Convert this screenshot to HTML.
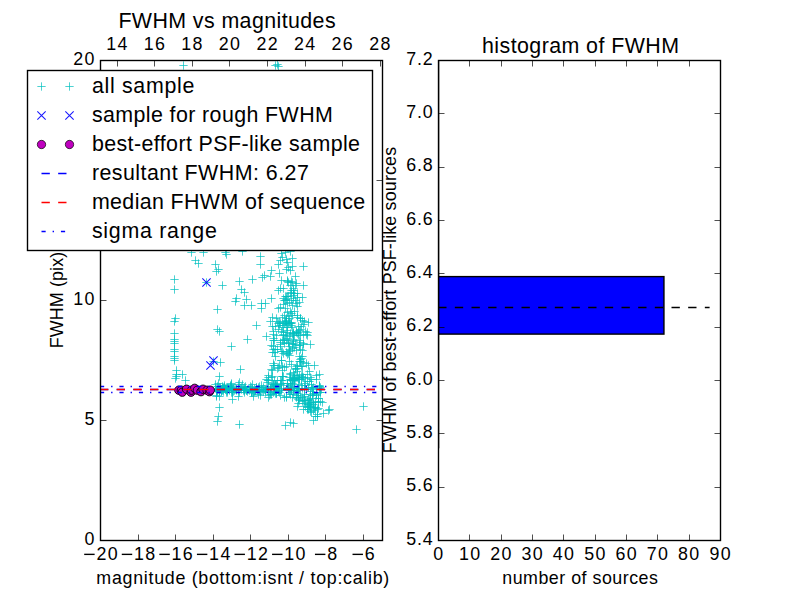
<!DOCTYPE html>
<html><head><meta charset="utf-8"><style>html,body{margin:0;padding:0;background:#fff;width:800px;height:600px;overflow:hidden;font-family:"Liberation Sans",sans-serif}</style></head>
<body>
<svg width="800" height="600" viewBox="0 0 800 600" font-family="Liberation Sans, sans-serif" style="position:absolute;left:0;top:0;font-family:'Liberation Sans',sans-serif">
<rect x="0" y="0" width="800" height="600" fill="#fff"/>
<defs><clipPath id="cl"><rect x="100.00" y="60.00" width="281.82" height="480.00"/></clipPath>
<clipPath id="cr"><rect x="438.18" y="60.00" width="281.82" height="480.00"/></clipPath></defs>
<g clip-path="url(#cl)">
<g stroke="#00bfbf" stroke-width="1" stroke-opacity="0.7" fill="none">
<path d="M170.34 279.5H178.66M174.5 275.33V283.67"/>
<path d="M170.34 289.5H178.66M174.5 285.33V293.67"/>
<path d="M202.34 282.5H210.66M206.5 278.33V286.67"/>
<path d="M187.34 252.5H195.66M191.5 248.34V256.67"/>
<path d="M199.34 252.5H207.66M203.5 248.34V256.67"/>
<path d="M191.34 260.5H199.66M195.5 256.33V264.67"/>
<path d="M194.34 263.5H202.66M198.5 259.33V267.67"/>
<path d="M211.34 264.5H219.66M215.5 260.33V268.67"/>
<path d="M214.34 269.5H222.66M218.5 265.33V273.67"/>
<path d="M212.34 271.5H220.66M216.5 267.33V275.67"/>
<path d="M221.34 252.5H229.66M225.5 248.34V256.67"/>
<path d="M222.34 254.5H230.66M226.5 250.34V258.67"/>
<path d="M238.34 251.5H246.66M242.5 247.34V255.66"/>
<path d="M256.33 256.5H264.67M260.5 252.34V260.67"/>
<path d="M218.34 285.5H226.66M222.5 281.33V289.67"/>
<path d="M235.34 281.5H243.66M239.5 277.33V285.67"/>
<path d="M248.34 279.5H256.67M252.5 275.33V283.67"/>
<path d="M237.34 289.5H245.66M241.5 285.33V293.67"/>
<path d="M240.34 292.5H248.66M244.5 288.33V296.67"/>
<path d="M232.34 298.5H240.66M236.5 294.33V302.67"/>
<path d="M231.34 301.5H239.66M235.5 297.33V305.67"/>
<path d="M242.34 299.5H250.66M246.5 295.33V303.67"/>
<path d="M240.34 305.5H248.66M244.5 301.33V309.67"/>
<path d="M247.34 305.5H255.66M251.5 301.33V309.67"/>
<path d="M213.34 309.5H221.66M217.5 305.33V313.67"/>
<path d="M171.34 318.5H179.66M175.5 314.33V322.67"/>
<path d="M256.33 264.5H264.67M260.5 260.33V268.67"/>
<path d="M267.33 270.5H275.67M271.5 266.33V274.67"/>
<path d="M275.33 273.5H283.67M279.5 269.33V277.67"/>
<path d="M260.33 275.5H268.67M264.5 271.33V279.67"/>
<path d="M258.33 277.5H266.67M262.5 273.33V281.67"/>
<path d="M266.33 276.5H274.67M270.5 272.33V280.67"/>
<path d="M276.33 288.5H284.67M280.5 284.33V292.67"/>
<path d="M274.33 290.5H282.67M278.5 286.33V294.67"/>
<path d="M267.33 298.5H275.67M271.5 294.33V302.67"/>
<path d="M257.33 303.5H265.67M261.5 299.33V307.67"/>
<path d="M261.33 303.5H269.67M265.5 299.33V307.67"/>
<path d="M257.33 308.5H265.67M261.5 304.33V312.67"/>
<path d="M274.33 308.5H282.67M278.5 304.33V312.67"/>
<path d="M268.33 317.5H276.67M272.5 313.33V321.67"/>
<path d="M272.33 318.5H280.67M276.5 314.33V322.67"/>
<path d="M299.33 266.5H307.67M303.5 262.33V270.67"/>
<path d="M277.33 253.5H285.67M281.5 249.34V257.67"/>
<path d="M281.33 252.5H289.67M285.5 248.34V256.67"/>
<path d="M286.33 251.5H294.67M290.5 247.34V255.66"/>
<path d="M278.33 257.5H286.67M282.5 253.34V261.67"/>
<path d="M276.33 260.5H284.67M280.5 256.33V264.67"/>
<path d="M282.33 259.5H290.67M286.5 255.34V263.67"/>
<path d="M288.33 258.5H296.67M292.5 254.34V262.67"/>
<path d="M274.33 264.5H282.67M278.5 260.33V268.67"/>
<path d="M283.33 262.5H291.67M287.5 258.33V266.67"/>
<path d="M284.33 267.5H292.67M288.5 263.33V271.67"/>
<path d="M288.33 266.5H296.67M292.5 262.33V270.67"/>
<path d="M282.33 269.5H290.67M286.5 265.33V273.67"/>
<path d="M286.33 270.5H294.67M290.5 266.33V274.67"/>
<path d="M291.33 276.5H299.67M295.5 272.33V280.67"/>
<path d="M283.33 280.5H291.67M287.5 276.33V284.67"/>
<path d="M287.33 281.5H295.67M291.5 277.33V285.67"/>
<path d="M288.33 282.5H296.67M292.5 278.33V286.67"/>
<path d="M291.33 285.5H299.67M295.5 281.33V289.67"/>
<path d="M286.33 285.5H294.67M290.5 281.33V289.67"/>
<path d="M289.33 288.5H297.67M293.5 284.33V292.67"/>
<path d="M287.33 292.5H295.67M291.5 288.33V296.67"/>
<path d="M281.33 296.5H289.67M285.5 292.33V300.67"/>
<path d="M284.33 296.5H292.67M288.5 292.33V300.67"/>
<path d="M289.33 295.5H297.67M293.5 291.33V299.67"/>
<path d="M293.33 293.5H301.67M297.5 289.33V297.67"/>
<path d="M298.33 297.5H306.67M302.5 293.33V301.67"/>
<path d="M280.33 300.5H288.67M284.5 296.33V304.67"/>
<path d="M287.33 300.5H295.67M291.5 296.33V304.67"/>
<path d="M283.33 303.5H291.67M287.5 299.33V307.67"/>
<path d="M292.33 303.5H300.67M296.5 299.33V307.67"/>
<path d="M276.33 307.5H284.67M280.5 303.33V311.67"/>
<path d="M281.33 308.5H289.67M285.5 304.33V312.67"/>
<path d="M293.33 306.5H301.67M297.5 302.33V310.67"/>
<path d="M286.33 311.5H294.67M290.5 307.33V315.67"/>
<path d="M288.33 315.5H296.67M292.5 311.33V319.67"/>
<path d="M284.33 316.5H292.67M288.5 312.33V320.67"/>
<path d="M293.33 317.5H301.67M297.5 313.33V321.67"/>
<path d="M296.33 318.5H304.67M300.5 314.33V322.67"/>
<path d="M279.33 298.5H287.67M283.5 294.33V302.67"/>
<path d="M282.33 299.5H290.67M286.5 295.33V303.67"/>
<path d="M285.33 302.5H293.67M289.5 298.33V306.67"/>
<path d="M289.33 298.5H297.67M293.5 294.33V302.67"/>
<path d="M291.33 300.5H299.67M295.5 296.33V304.67"/>
<path d="M279.33 304.5H287.67M283.5 300.33V308.67"/>
<path d="M288.33 305.5H296.67M292.5 301.33V309.67"/>
<path d="M283.33 312.5H291.67M287.5 308.33V316.67"/>
<path d="M287.33 313.5H295.67M291.5 309.33V317.67"/>
<path d="M290.33 311.5H298.67M294.5 307.33V315.67"/>
<path d="M282.33 318.5H290.67M286.5 314.33V322.67"/>
<path d="M285.33 318.5H293.67M289.5 314.33V322.67"/>
<path d="M170.34 321.5H178.66M174.5 317.33V325.67"/>
<path d="M170.34 333.5H178.66M174.5 329.33V337.67"/>
<path d="M170.34 339.5H178.66M174.5 335.33V343.67"/>
<path d="M170.34 341.5H178.66M174.5 337.33V345.67"/>
<path d="M170.34 343.5H178.66M174.5 339.33V347.67"/>
<path d="M170.34 349.5H178.66M174.5 345.33V353.67"/>
<path d="M170.34 351.5H178.66M174.5 347.33V355.67"/>
<path d="M170.34 356.5H178.66M174.5 352.33V360.67"/>
<path d="M170.34 358.5H178.66M174.5 354.33V362.67"/>
<path d="M170.34 360.5H178.66M174.5 356.33V364.67"/>
<path d="M172.34 370.5H180.66M176.5 366.33V374.67"/>
<path d="M172.34 374.5H180.66M176.5 370.33V378.67"/>
<path d="M172.34 376.5H180.66M176.5 372.33V380.67"/>
<path d="M171.34 378.5H179.66M175.5 374.33V382.67"/>
<path d="M178.34 374.5H186.66M182.5 370.33V378.67"/>
<path d="M181.34 380.5H189.66M185.5 376.33V384.67"/>
<path d="M213.34 329.5H221.66M217.5 325.33V333.67"/>
<path d="M215.34 331.5H223.66M219.5 327.33V335.67"/>
<path d="M252.34 325.5H260.67M256.5 321.33V329.67"/>
<path d="M243.34 339.5H251.66M247.5 335.33V343.67"/>
<path d="M227.34 346.5H235.66M231.5 342.33V350.67"/>
<path d="M216.34 362.5H224.66M220.5 358.33V366.67"/>
<path d="M209.34 361.5H217.66M213.5 357.33V365.67"/>
<path d="M236.34 369.5H244.66M240.5 365.33V373.67"/>
<path d="M215.34 376.5H223.66M219.5 372.33V380.67"/>
<path d="M179.34 65.5H187.66M183.5 61.34V69.67"/>
<path d="M271.33 65.5H279.67M275.5 61.34V69.67"/>
<path d="M274.33 66.5H282.67M278.5 62.34V70.67"/>
<path d="M273.33 64.5H281.67M277.5 60.34V68.67"/>
<path d="M262.33 336.5H270.67M266.5 332.33V340.67"/>
<path d="M266.33 321.5H274.67M270.5 317.33V325.67"/>
<path d="M303.33 335.5H311.67M307.5 331.33V339.67"/>
<path d="M306.33 344.5H314.67M310.5 340.33V348.67"/>
<path d="M315.33 374.5H323.67M319.5 370.33V378.67"/>
<path d="M278.33 376.5H286.67M282.5 372.33V380.67"/>
<path d="M295.33 375.5H303.67M299.5 371.33V379.67"/>
<path d="M289.33 378.5H297.67M293.5 374.33V382.67"/>
<path d="M264.33 380.5H272.67M268.5 376.33V384.67"/>
<path d="M262.33 379.5H270.67M266.5 375.33V383.67"/>
<path d="M264.33 375.5H272.67M268.5 371.33V379.67"/>
<path d="M283.33 383.5H291.67M287.5 379.33V387.67"/>
<path d="M267.33 377.5H275.67M271.5 373.33V381.67"/>
<path d="M294.33 384.5H302.67M298.5 380.33V388.67"/>
<path d="M291.33 378.5H299.67M295.5 374.33V382.67"/>
<path d="M312.33 375.5H320.67M316.5 371.33V379.67"/>
<path d="M306.33 377.5H314.67M310.5 373.33V381.67"/>
<path d="M268.33 376.5H276.67M272.5 372.33V380.67"/>
<path d="M277.33 383.5H285.67M281.5 379.33V387.67"/>
<path d="M270.33 380.5H278.67M274.5 376.33V384.67"/>
<path d="M294.33 378.5H302.67M298.5 374.33V382.67"/>
<path d="M290.33 375.5H298.67M294.5 371.33V379.67"/>
<path d="M264.33 377.5H272.67M268.5 373.33V381.67"/>
<path d="M297.33 379.5H305.67M301.5 375.33V383.67"/>
<path d="M277.33 380.5H285.67M281.5 376.33V384.67"/>
<path d="M285.33 377.5H293.67M289.5 373.33V381.67"/>
<path d="M303.33 381.5H311.67M307.5 377.33V385.67"/>
<path d="M273.33 380.5H281.67M277.5 376.33V384.67"/>
<path d="M288.33 383.5H296.67M292.5 379.33V387.67"/>
<path d="M299.33 377.5H307.67M303.5 373.33V381.67"/>
<path d="M215.34 396.5H223.66M219.5 392.33V400.67"/>
<path d="M228.34 399.5H236.66M232.5 395.33V403.67"/>
<path d="M215.34 407.5H223.66M219.5 403.33V411.67"/>
<path d="M214.34 416.5H222.66M218.5 412.33V420.67"/>
<path d="M213.34 421.5H221.66M217.5 417.33V425.67"/>
<path d="M235.34 424.5H243.66M239.5 420.33V428.67"/>
<path d="M255.34 386.5H263.67M259.5 382.33V390.67"/>
<path d="M229.34 391.5H237.66M233.5 387.33V395.67"/>
<path d="M217.34 389.5H225.66M221.5 385.33V393.67"/>
<path d="M212.34 390.5H220.66M216.5 386.33V394.67"/>
<path d="M245.34 390.5H253.66M249.5 386.33V394.67"/>
<path d="M250.34 388.5H258.67M254.5 384.33V392.67"/>
<path d="M242.34 390.5H250.66M246.5 386.33V394.67"/>
<path d="M237.34 389.5H245.66M241.5 385.33V393.67"/>
<path d="M248.34 392.5H256.67M252.5 388.33V396.67"/>
<path d="M232.34 390.5H240.66M236.5 386.33V394.67"/>
<path d="M213.34 390.5H221.66M217.5 386.33V394.67"/>
<path d="M240.34 392.5H248.66M244.5 388.33V396.67"/>
<path d="M247.34 387.5H255.66M251.5 383.33V391.67"/>
<path d="M228.34 390.5H236.66M232.5 386.33V394.67"/>
<path d="M212.34 389.5H220.66M216.5 385.33V393.67"/>
<path d="M218.34 386.5H226.66M222.5 382.33V390.67"/>
<path d="M213.34 391.5H221.66M217.5 387.33V395.67"/>
<path d="M216.34 387.5H224.66M220.5 383.33V391.67"/>
<path d="M228.34 392.5H236.66M232.5 388.33V396.67"/>
<path d="M214.34 389.5H222.66M218.5 385.33V393.67"/>
<path d="M235.34 392.5H243.66M239.5 388.33V396.67"/>
<path d="M247.34 392.5H255.66M251.5 388.33V396.67"/>
<path d="M223.34 388.5H231.66M227.5 384.33V392.67"/>
<path d="M227.34 392.5H235.66M231.5 388.33V396.67"/>
<path d="M254.34 387.5H262.67M258.5 383.33V391.67"/>
<path d="M218.34 387.5H226.66M222.5 383.33V391.67"/>
<path d="M221.34 389.5H229.66M225.5 385.33V393.67"/>
<path d="M237.34 387.5H245.66M241.5 383.33V391.67"/>
<path d="M211.34 388.5H219.66M215.5 384.33V392.67"/>
<path d="M227.34 389.5H235.66M231.5 385.33V393.67"/>
<path d="M253.34 390.5H261.67M257.5 386.33V394.67"/>
<path d="M234.34 390.5H242.66M238.5 386.33V394.67"/>
<path d="M241.34 386.5H249.66M245.5 382.33V390.67"/>
<path d="M251.34 391.5H259.67M255.5 387.33V395.67"/>
<path d="M250.34 391.5H258.67M254.5 387.33V395.67"/>
<path d="M228.34 388.5H236.66M232.5 384.33V392.67"/>
<path d="M215.34 390.5H223.66M219.5 386.33V394.67"/>
<path d="M213.34 386.5H221.66M217.5 382.33V390.67"/>
<path d="M220.34 387.5H228.66M224.5 383.33V391.67"/>
<path d="M226.34 386.5H234.66M230.5 382.33V390.67"/>
<path d="M211.34 384.5H219.66M215.5 380.33V388.67"/>
<path d="M215.34 387.5H223.66M219.5 383.33V391.67"/>
<path d="M212.34 395.5H220.66M216.5 391.33V399.67"/>
<path d="M238.34 384.5H246.66M242.5 380.33V388.67"/>
<path d="M222.34 387.5H230.66M226.5 383.33V391.67"/>
<path d="M227.34 383.5H235.66M231.5 379.33V387.67"/>
<path d="M249.34 396.5H257.67M253.5 392.33V400.67"/>
<path d="M231.34 389.5H239.66M235.5 385.33V393.67"/>
<path d="M214.34 383.5H222.66M218.5 379.33V387.67"/>
<path d="M226.34 385.5H234.66M230.5 381.33V389.67"/>
<path d="M248.34 384.5H256.67M252.5 380.33V388.67"/>
<path d="M212.34 396.5H220.66M216.5 392.33V400.67"/>
<path d="M234.34 384.5H242.66M238.5 380.33V388.67"/>
<path d="M235.34 382.5H243.66M239.5 378.33V386.67"/>
<path d="M234.34 396.5H242.66M238.5 392.33V400.67"/>
<path d="M309.33 393.5H317.67M313.5 389.33V397.67"/>
<path d="M272.33 386.5H280.67M276.5 382.33V390.67"/>
<path d="M266.33 394.5H274.67M270.5 390.33V398.67"/>
<path d="M289.33 394.5H297.67M293.5 390.33V398.67"/>
<path d="M276.33 384.5H284.67M280.5 380.33V388.67"/>
<path d="M306.33 398.5H314.67M310.5 394.33V402.67"/>
<path d="M308.33 395.5H316.67M312.5 391.33V399.67"/>
<path d="M306.33 394.5H314.67M310.5 390.33V398.67"/>
<path d="M270.33 389.5H278.67M274.5 385.33V393.67"/>
<path d="M278.33 380.5H286.67M282.5 376.33V384.67"/>
<path d="M257.33 385.5H265.67M261.5 381.33V389.67"/>
<path d="M272.33 393.5H280.67M276.5 389.33V397.67"/>
<path d="M315.33 388.5H323.67M319.5 384.33V392.67"/>
<path d="M314.33 398.5H322.67M318.5 394.33V402.67"/>
<path d="M315.33 386.5H323.67M319.5 382.33V390.67"/>
<path d="M269.33 384.5H277.67M273.5 380.33V388.67"/>
<path d="M268.33 383.5H276.67M272.5 379.33V387.67"/>
<path d="M294.33 397.5H302.67M298.5 393.33V401.67"/>
<path d="M308.33 389.5H316.67M312.5 385.33V393.67"/>
<path d="M296.33 395.5H304.67M300.5 391.33V399.67"/>
<path d="M261.33 392.5H269.67M265.5 388.33V396.67"/>
<path d="M312.33 394.5H320.67M316.5 390.33V398.67"/>
<path d="M302.33 389.5H310.67M306.5 385.33V393.67"/>
<path d="M267.33 394.5H275.67M271.5 390.33V398.67"/>
<path d="M276.33 395.5H284.67M280.5 391.33V399.67"/>
<path d="M316.33 387.5H324.67M320.5 383.33V391.67"/>
<path d="M280.33 397.5H288.67M284.5 393.33V401.67"/>
<path d="M300.33 383.5H308.67M304.5 379.33V387.67"/>
<path d="M263.33 382.5H271.67M267.5 378.33V386.67"/>
<path d="M312.33 395.5H320.67M316.5 391.33V399.67"/>
<path d="M265.33 395.5H273.67M269.5 391.33V399.67"/>
<path d="M316.33 392.5H324.67M320.5 388.33V396.67"/>
<path d="M277.33 390.5H285.67M281.5 386.33V394.67"/>
<path d="M264.33 380.5H272.67M268.5 376.33V384.67"/>
<path d="M316.33 392.5H324.67M320.5 388.33V396.67"/>
<path d="M288.33 397.5H296.67M292.5 393.33V401.67"/>
<path d="M282.33 396.5H290.67M286.5 392.33V400.67"/>
<path d="M307.33 384.5H315.67M311.5 380.33V388.67"/>
<path d="M271.33 385.5H279.67M275.5 381.33V389.67"/>
<path d="M270.33 391.5H278.67M274.5 387.33V395.67"/>
<path d="M272.33 387.5H280.67M276.5 383.33V391.67"/>
<path d="M264.33 397.5H272.67M268.5 393.33V401.67"/>
<path d="M277.33 388.5H285.67M281.5 384.33V392.67"/>
<path d="M292.33 397.5H300.67M296.5 393.33V401.67"/>
<path d="M282.33 397.5H290.67M286.5 393.33V401.67"/>
<path d="M287.33 390.5H295.67M291.5 386.33V394.67"/>
<path d="M288.33 380.5H296.67M292.5 376.33V384.67"/>
<path d="M283.33 383.5H291.67M287.5 379.33V387.67"/>
<path d="M256.33 395.5H264.67M260.5 391.33V399.67"/>
<path d="M266.33 388.5H274.67M270.5 384.33V392.67"/>
<path d="M306.33 406.5H314.67M310.5 402.33V410.67"/>
<path d="M310.33 408.5H318.67M314.5 404.33V412.67"/>
<path d="M305.33 402.5H313.67M309.5 398.33V406.67"/>
<path d="M304.33 409.5H312.67M308.5 405.33V413.67"/>
<path d="M300.33 403.5H308.67M304.5 399.33V407.67"/>
<path d="M306.33 407.5H314.67M310.5 403.33V411.67"/>
<path d="M306.33 403.5H314.67M310.5 399.33V407.67"/>
<path d="M303.33 409.5H311.67M307.5 405.33V413.67"/>
<path d="M311.33 407.5H319.67M315.5 403.33V411.67"/>
<path d="M309.33 404.5H317.67M313.5 400.33V408.67"/>
<path d="M314.33 408.5H322.67M318.5 404.33V412.67"/>
<path d="M303.33 400.5H311.67M307.5 396.33V404.67"/>
<path d="M298.33 401.5H306.67M302.5 397.33V405.67"/>
<path d="M307.33 412.5H315.67M311.5 408.33V416.67"/>
<path d="M301.33 400.5H309.67M305.5 396.33V404.67"/>
<path d="M316.33 401.5H324.67M320.5 397.33V405.67"/>
<path d="M301.33 406.5H309.67M305.5 402.33V410.67"/>
<path d="M294.33 403.5H302.67M298.5 399.33V407.67"/>
<path d="M306.33 411.5H314.67M310.5 407.33V415.67"/>
<path d="M295.33 400.5H303.67M299.5 396.33V404.67"/>
<path d="M281.33 425.5H289.67M285.5 421.33V429.67"/>
<path d="M286.33 422.5H294.67M290.5 418.33V426.67"/>
<path d="M289.33 423.5H297.67M293.5 419.33V427.67"/>
<path d="M309.33 420.5H317.67M313.5 416.33V424.67"/>
<path d="M313.33 416.5H321.67M317.5 412.33V420.67"/>
<path d="M324.33 410.5H332.67M328.5 406.33V414.67"/>
<path d="M325.33 409.5H333.67M329.5 405.33V413.67"/>
<path d="M319.33 413.5H327.67M323.5 409.33V417.67"/>
<path d="M318.33 402.5H326.67M322.5 398.33V406.67"/>
<path d="M299.33 409.5H307.67M303.5 405.33V413.67"/>
<path d="M293.33 406.5H301.67M297.5 402.33V410.67"/>
<path d="M352.33 429.5H360.67M356.5 425.33V433.67"/>
<path d="M359.33 406.5H367.67M363.5 402.33V410.67"/>
<path d="M311.33 416.5H319.67M315.5 412.33V420.67"/>
<path d="M219.34 389.5H227.66M223.5 385.33V393.67"/>
<path d="M219.34 387.5H227.66M223.5 383.33V391.67"/>
<path d="M242.34 390.5H250.66M246.5 386.33V394.67"/>
<path d="M244.34 389.5H252.66M248.5 385.33V393.67"/>
<path d="M227.34 384.5H235.66M231.5 380.33V388.67"/>
<path d="M240.34 389.5H248.66M244.5 385.33V393.67"/>
<path d="M220.34 387.5H228.66M224.5 383.33V391.67"/>
<path d="M225.34 390.5H233.66M229.5 386.33V394.67"/>
<path d="M221.34 388.5H229.66M225.5 384.33V392.67"/>
<path d="M215.34 391.5H223.66M219.5 387.33V395.67"/>
<path d="M232.34 389.5H240.66M236.5 385.33V393.67"/>
<path d="M225.34 389.5H233.66M229.5 385.33V393.67"/>
<path d="M234.34 388.5H242.66M238.5 384.33V392.67"/>
<path d="M245.34 389.5H253.66M249.5 385.33V393.67"/>
<path d="M239.34 390.5H247.66M243.5 386.33V394.67"/>
<path d="M223.34 389.5H231.66M227.5 385.33V393.67"/>
<path d="M216.34 389.5H224.66M220.5 385.33V393.67"/>
<path d="M219.34 388.5H227.66M223.5 384.33V392.67"/>
<path d="M228.34 392.5H236.66M232.5 388.33V396.67"/>
<path d="M223.34 387.5H231.66M227.5 383.33V391.67"/>
<path d="M219.34 391.5H227.66M223.5 387.33V395.67"/>
<path d="M236.34 388.5H244.66M240.5 384.33V392.67"/>
<path d="M217.34 391.5H225.66M221.5 387.33V395.67"/>
<path d="M228.34 390.5H236.66M232.5 386.33V394.67"/>
<path d="M217.34 391.5H225.66M221.5 387.33V395.67"/>
<path d="M239.34 388.5H247.66M243.5 384.33V392.67"/>
<path d="M217.34 389.5H225.66M221.5 385.33V393.67"/>
<path d="M241.34 389.5H249.66M245.5 385.33V393.67"/>
<path d="M229.34 388.5H237.66M233.5 384.33V392.67"/>
<path d="M243.34 391.5H251.66M247.5 387.33V395.67"/>
<path d="M223.34 390.5H231.66M227.5 386.33V394.67"/>
<path d="M222.34 390.5H230.66M226.5 386.33V394.67"/>
<path d="M218.34 389.5H226.66M222.5 385.33V393.67"/>
<path d="M221.34 389.5H229.66M225.5 385.33V393.67"/>
<path d="M224.34 388.5H232.66M228.5 384.33V392.67"/>
<path d="M223.34 392.5H231.66M227.5 388.33V396.67"/>
<path d="M230.34 390.5H238.66M234.5 386.33V394.67"/>
<path d="M215.34 390.5H223.66M219.5 386.33V394.67"/>
<path d="M222.34 392.5H230.66M226.5 388.33V396.67"/>
<path d="M232.34 389.5H240.66M236.5 385.33V393.67"/>
<path d="M220.34 385.5H228.66M224.5 381.33V389.67"/>
<path d="M218.34 390.5H226.66M222.5 386.33V394.67"/>
<path d="M240.34 387.5H248.66M244.5 383.33V391.67"/>
<path d="M240.34 390.5H248.66M244.5 386.33V394.67"/>
<path d="M227.34 387.5H235.66M231.5 383.33V391.67"/>
<path d="M285.33 389.5H293.67M289.5 385.33V393.67"/>
<path d="M259.33 391.5H267.67M263.5 387.33V395.67"/>
<path d="M271.33 385.5H279.67M275.5 381.33V389.67"/>
<path d="M262.33 388.5H270.67M266.5 384.33V392.67"/>
<path d="M251.34 390.5H259.67M255.5 386.33V394.67"/>
<path d="M248.34 389.5H256.67M252.5 385.33V393.67"/>
<path d="M252.34 387.5H260.67M256.5 383.33V391.67"/>
<path d="M249.34 392.5H257.67M253.5 388.33V396.67"/>
<path d="M272.33 384.5H280.67M276.5 380.33V388.67"/>
<path d="M257.33 389.5H265.67M261.5 385.33V393.67"/>
<path d="M264.33 391.5H272.67M268.5 387.33V395.67"/>
<path d="M252.34 387.5H260.67M256.5 383.33V391.67"/>
<path d="M284.33 390.5H292.67M288.5 386.33V394.67"/>
<path d="M284.33 387.5H292.67M288.5 383.33V391.67"/>
<path d="M284.33 388.5H292.67M288.5 384.33V392.67"/>
<path d="M258.33 389.5H266.67M262.5 385.33V393.67"/>
<path d="M261.33 389.5H269.67M265.5 385.33V393.67"/>
<path d="M264.33 387.5H272.67M268.5 383.33V391.67"/>
<path d="M266.33 389.5H274.67M270.5 385.33V393.67"/>
<path d="M246.34 389.5H254.66M250.5 385.33V393.67"/>
<path d="M261.33 390.5H269.67M265.5 386.33V394.67"/>
<path d="M247.34 391.5H255.66M251.5 387.33V395.67"/>
<path d="M255.34 389.5H263.67M259.5 385.33V393.67"/>
<path d="M269.33 384.5H277.67M273.5 380.33V388.67"/>
<path d="M272.33 388.5H280.67M276.5 384.33V392.67"/>
<path d="M274.33 391.5H282.67M278.5 387.33V395.67"/>
<path d="M259.33 387.5H267.67M263.5 383.33V391.67"/>
<path d="M285.33 392.5H293.67M289.5 388.33V396.67"/>
<path d="M271.33 393.5H279.67M275.5 389.33V397.67"/>
<path d="M247.34 392.5H255.66M251.5 388.33V396.67"/>
<path d="M271.33 384.5H279.67M275.5 380.33V388.67"/>
<path d="M275.33 390.5H283.67M279.5 386.33V394.67"/>
<path d="M266.33 388.5H274.67M270.5 384.33V392.67"/>
<path d="M266.33 392.5H274.67M270.5 388.33V396.67"/>
<path d="M279.33 385.5H287.67M283.5 381.33V389.67"/>
<path d="M269.33 392.5H277.67M273.5 388.33V396.67"/>
<path d="M273.33 386.5H281.67M277.5 382.33V390.67"/>
<path d="M255.34 390.5H263.67M259.5 386.33V394.67"/>
<path d="M260.33 389.5H268.67M264.5 385.33V393.67"/>
<path d="M250.34 391.5H258.67M254.5 387.33V395.67"/>
<path d="M271.33 386.5H279.67M275.5 382.33V390.67"/>
<path d="M271.33 388.5H279.67M275.5 384.33V392.67"/>
<path d="M246.34 386.5H254.66M250.5 382.33V390.67"/>
<path d="M277.33 389.5H285.67M281.5 385.33V393.67"/>
<path d="M267.33 386.5H275.67M271.5 382.33V390.67"/>
<path d="M272.33 393.5H280.67M276.5 389.33V397.67"/>
<path d="M256.33 391.5H264.67M260.5 387.33V395.67"/>
<path d="M248.34 389.5H256.67M252.5 385.33V393.67"/>
<path d="M254.34 394.5H262.67M258.5 390.33V398.67"/>
<path d="M275.33 392.5H283.67M279.5 388.33V396.67"/>
<path d="M298.33 388.5H306.67M302.5 384.33V392.67"/>
<path d="M301.33 385.5H309.67M305.5 381.33V389.67"/>
<path d="M305.33 381.5H313.67M309.5 377.33V385.67"/>
<path d="M306.33 391.5H314.67M310.5 387.33V395.67"/>
<path d="M294.33 390.5H302.67M298.5 386.33V394.67"/>
<path d="M309.33 387.5H317.67M313.5 383.33V391.67"/>
<path d="M286.33 394.5H294.67M290.5 390.33V398.67"/>
<path d="M287.33 388.5H295.67M291.5 384.33V392.67"/>
<path d="M308.33 395.5H316.67M312.5 391.33V399.67"/>
<path d="M307.33 387.5H315.67M311.5 383.33V391.67"/>
<path d="M300.33 394.5H308.67M304.5 390.33V398.67"/>
<path d="M300.33 396.5H308.67M304.5 392.33V400.67"/>
<path d="M292.33 395.5H300.67M296.5 391.33V399.67"/>
<path d="M317.33 389.5H325.67M321.5 385.33V393.67"/>
<path d="M300.33 388.5H308.67M304.5 384.33V392.67"/>
<path d="M312.33 393.5H320.67M316.5 389.33V397.67"/>
<path d="M294.33 388.5H302.67M298.5 384.33V392.67"/>
<path d="M292.33 391.5H300.67M296.5 387.33V395.67"/>
<path d="M304.33 387.5H312.67M308.5 383.33V391.67"/>
<path d="M290.33 378.5H298.67M294.5 374.33V382.67"/>
<path d="M290.33 387.5H298.67M294.5 383.33V391.67"/>
<path d="M312.33 379.5H320.67M316.5 375.33V383.67"/>
<path d="M308.33 388.5H316.67M312.5 384.33V392.67"/>
<path d="M293.33 393.5H301.67M297.5 389.33V397.67"/>
<path d="M286.33 385.5H294.67M290.5 381.33V389.67"/>
<path d="M286.33 384.5H294.67M290.5 380.33V388.67"/>
<path d="M295.33 389.5H303.67M299.5 385.33V393.67"/>
<path d="M290.33 386.5H298.67M294.5 382.33V390.67"/>
<path d="M312.33 392.5H320.67M316.5 388.33V396.67"/>
<path d="M286.33 389.5H294.67M290.5 385.33V393.67"/>
<path d="M289.33 380.5H297.67M293.5 376.33V384.67"/>
<path d="M315.33 386.5H323.67M319.5 382.33V390.67"/>
<path d="M295.33 379.5H303.67M299.5 375.33V383.67"/>
<path d="M297.33 376.5H305.67M301.5 372.33V380.67"/>
<path d="M304.33 399.5H312.67M308.5 395.33V403.67"/>
<path d="M297.33 385.5H305.67M301.5 381.33V389.67"/>
<path d="M287.33 390.5H295.67M291.5 386.33V394.67"/>
<path d="M289.33 390.5H297.67M293.5 386.33V394.67"/>
<path d="M315.33 385.5H323.67M319.5 381.33V389.67"/>
<path d="M293.33 388.5H301.67M297.5 384.33V392.67"/>
<path d="M304.33 404.5H312.67M308.5 400.33V408.67"/>
<path d="M294.33 399.5H302.67M298.5 395.33V403.67"/>
<path d="M304.33 404.5H312.67M308.5 400.33V408.67"/>
<path d="M294.33 398.5H302.67M298.5 394.33V402.67"/>
<path d="M309.33 402.5H317.67M313.5 398.33V406.67"/>
<path d="M309.33 410.5H317.67M313.5 406.33V414.67"/>
<path d="M311.33 401.5H319.67M315.5 397.33V405.67"/>
<path d="M314.33 402.5H322.67M318.5 398.33V406.67"/>
<path d="M313.33 414.5H321.67M317.5 410.33V418.67"/>
<path d="M305.33 405.5H313.67M309.5 401.33V409.67"/>
<path d="M307.33 402.5H315.67M311.5 398.33V406.67"/>
<path d="M298.33 397.5H306.67M302.5 393.33V401.67"/>
<path d="M313.33 409.5H321.67M317.5 405.33V413.67"/>
<path d="M311.33 407.5H319.67M315.5 403.33V411.67"/>
<path d="M305.33 400.5H313.67M309.5 396.33V404.67"/>
<path d="M300.33 400.5H308.67M304.5 396.33V404.67"/>
<path d="M305.33 406.5H313.67M309.5 402.33V410.67"/>
<path d="M314.33 398.5H322.67M318.5 394.33V402.67"/>
<path d="M303.33 407.5H311.67M307.5 403.33V411.67"/>
<path d="M299.33 400.5H307.67M303.5 396.33V404.67"/>
<path d="M292.33 283.5H300.67M296.5 279.33V287.67"/>
<path d="M290.33 293.5H298.67M294.5 289.33V297.67"/>
<path d="M289.33 290.5H297.67M293.5 286.33V294.67"/>
<path d="M295.33 302.5H303.67M299.5 298.33V306.67"/>
<path d="M282.33 296.5H290.67M286.5 292.33V300.67"/>
<path d="M283.33 296.5H291.67M287.5 292.33V300.67"/>
<path d="M286.33 293.5H294.67M290.5 289.33V297.67"/>
<path d="M284.33 282.5H292.67M288.5 278.33V286.67"/>
<path d="M299.33 285.5H307.67M303.5 281.33V289.67"/>
<path d="M281.33 300.5H289.67M285.5 296.33V304.67"/>
<path d="M279.33 288.5H287.67M283.5 284.33V292.67"/>
<path d="M287.33 290.5H295.67M291.5 286.33V294.67"/>
<path d="M293.33 297.5H301.67M297.5 293.33V301.67"/>
<path d="M296.33 318.5H304.67M300.5 314.33V322.67"/>
<path d="M277.33 280.5H285.67M281.5 276.33V284.67"/>
<path d="M283.33 281.5H291.67M287.5 277.33V285.67"/>
<path d="M273.33 349.5H281.67M277.5 345.33V353.67"/>
<path d="M298.33 356.5H306.67M302.5 352.33V360.67"/>
<path d="M292.33 377.5H300.67M296.5 373.33V381.67"/>
<path d="M305.33 371.5H313.67M309.5 367.33V375.67"/>
<path d="M272.33 335.5H280.67M276.5 331.33V339.67"/>
<path d="M294.33 326.5H302.67M298.5 322.33V330.67"/>
<path d="M299.33 362.5H307.67M303.5 358.33V366.67"/>
<path d="M290.33 378.5H298.67M294.5 374.33V382.67"/>
<path d="M280.33 367.5H288.67M284.5 363.33V371.67"/>
<path d="M288.33 348.5H296.67M292.5 344.33V352.67"/>
<path d="M291.33 368.5H299.67M295.5 364.33V372.67"/>
<path d="M299.33 334.5H307.67M303.5 330.33V338.67"/>
<path d="M283.33 338.5H291.67M287.5 334.33V342.67"/>
<path d="M288.33 327.5H296.67M292.5 323.33V331.67"/>
<path d="M302.33 363.5H310.67M306.5 359.33V367.67"/>
<path d="M297.33 326.5H305.67M301.5 322.33V330.67"/>
<path d="M295.33 356.5H303.67M299.5 352.33V360.67"/>
<path d="M291.33 344.5H299.67M295.5 340.33V348.67"/>
<path d="M298.33 320.5H306.67M302.5 316.33V324.67"/>
<path d="M269.33 338.5H277.67M273.5 334.33V342.67"/>
<path d="M296.33 359.5H304.67M300.5 355.33V363.67"/>
<path d="M286.33 374.5H294.67M290.5 370.33V378.67"/>
<path d="M290.33 335.5H298.67M294.5 331.33V339.67"/>
<path d="M290.33 379.5H298.67M294.5 375.33V383.67"/>
<path d="M281.33 321.5H289.67M285.5 317.33V325.67"/>
<path d="M286.33 350.5H294.67M290.5 346.33V354.67"/>
<path d="M281.33 335.5H289.67M285.5 331.33V339.67"/>
<path d="M296.33 361.5H304.67M300.5 357.33V365.67"/>
<path d="M285.33 322.5H293.67M289.5 318.33V326.67"/>
<path d="M279.33 340.5H287.67M283.5 336.33V344.67"/>
<path d="M294.33 332.5H302.67M298.5 328.33V336.67"/>
<path d="M291.33 369.5H299.67M295.5 365.33V373.67"/>
<path d="M279.33 332.5H287.67M283.5 328.33V336.67"/>
<path d="M287.33 380.5H295.67M291.5 376.33V384.67"/>
<path d="M302.33 334.5H310.67M306.5 330.33V338.67"/>
<path d="M289.33 333.5H297.67M293.5 329.33V337.67"/>
<path d="M286.33 379.5H294.67M290.5 375.33V383.67"/>
<path d="M292.33 350.5H300.67M296.5 346.33V354.67"/>
<path d="M295.33 345.5H303.67M299.5 341.33V349.67"/>
<path d="M295.33 361.5H303.67M299.5 357.33V365.67"/>
<path d="M288.33 344.5H296.67M292.5 340.33V348.67"/>
<path d="M293.33 333.5H301.67M297.5 329.33V337.67"/>
<path d="M287.33 323.5H295.67M291.5 319.33V327.67"/>
<path d="M274.33 323.5H282.67M278.5 319.33V327.67"/>
<path d="M303.33 374.5H311.67M307.5 370.33V378.67"/>
<path d="M310.33 365.5H318.67M314.5 361.33V369.67"/>
<path d="M289.33 340.5H297.67M293.5 336.33V344.67"/>
<path d="M301.33 331.5H309.67M305.5 327.33V335.67"/>
<path d="M282.33 321.5H290.67M286.5 317.33V325.67"/>
<path d="M285.33 361.5H293.67M289.5 357.33V365.67"/>
<path d="M295.33 340.5H303.67M299.5 336.33V344.67"/>
<path d="M295.33 330.5H303.67M299.5 326.33V334.67"/>
<path d="M289.33 341.5H297.67M293.5 337.33V345.67"/>
<path d="M307.33 379.5H315.67M311.5 375.33V383.67"/>
<path d="M303.33 332.5H311.67M307.5 328.33V336.67"/>
<path d="M296.33 342.5H304.67M300.5 338.33V346.67"/>
<path d="M276.33 346.5H284.67M280.5 342.33V350.67"/>
<path d="M280.33 323.5H288.67M284.5 319.33V327.67"/>
<path d="M293.33 377.5H301.67M297.5 373.33V381.67"/>
<path d="M277.33 331.5H285.67M281.5 327.33V335.67"/>
<path d="M300.33 321.5H308.67M304.5 317.33V325.67"/>
<path d="M295.33 345.5H303.67M299.5 341.33V349.67"/>
<path d="M275.33 322.5H283.67M279.5 318.33V326.67"/>
<path d="M304.33 322.5H312.67M308.5 318.33V326.67"/>
<path d="M296.33 335.5H304.67M300.5 331.33V339.67"/>
<path d="M297.33 366.5H305.67M301.5 362.33V370.67"/>
<path d="M285.33 336.5H293.67M289.5 332.33V340.67"/>
<path d="M288.33 379.5H296.67M292.5 375.33V383.67"/>
<path d="M287.33 364.5H295.67M291.5 360.33V368.67"/>
<path d="M289.33 339.5H297.67M293.5 335.33V343.67"/>
<path d="M292.33 366.5H300.67M296.5 362.33V370.67"/>
<path d="M279.33 376.5H287.67M283.5 372.33V380.67"/>
<path d="M273.33 321.5H281.67M277.5 317.33V325.67"/>
<path d="M269.33 334.5H277.67M273.5 330.33V338.67"/>
<path d="M295.33 379.5H303.67M299.5 375.33V383.67"/>
<path d="M289.33 343.5H297.67M293.5 339.33V347.67"/>
<path d="M298.33 350.5H306.67M302.5 346.33V354.67"/>
<path d="M298.33 377.5H306.67M302.5 373.33V381.67"/>
<path d="M304.33 365.5H312.67M308.5 361.33V369.67"/>
<path d="M293.33 371.5H301.67M297.5 367.33V375.67"/>
<path d="M278.33 340.5H286.67M282.5 336.33V344.67"/>
<path d="M280.33 339.5H288.67M284.5 335.33V343.67"/>
<path d="M299.33 324.5H307.67M303.5 320.33V328.67"/>
<path d="M289.33 332.5H297.67M293.5 328.33V336.67"/>
<path d="M282.33 324.5H290.67M286.5 320.33V328.67"/>
<path d="M281.33 322.5H289.67M285.5 318.33V326.67"/>
<path d="M290.33 380.5H298.67M294.5 376.33V384.67"/>
<path d="M298.33 374.5H306.67M302.5 370.33V378.67"/>
<path d="M287.33 325.5H295.67M291.5 321.33V329.67"/>
<path d="M275.33 325.5H283.67M279.5 321.33V329.67"/>
<path d="M290.33 347.5H298.67M294.5 343.33V351.67"/>
<path d="M279.33 334.5H287.67M283.5 330.33V338.67"/>
<path d="M296.33 361.5H304.67M300.5 357.33V365.67"/>
<path d="M298.33 366.5H306.67M302.5 362.33V370.67"/>
<path d="M278.33 327.5H286.67M282.5 323.33V331.67"/>
<path d="M289.33 372.5H297.67M293.5 368.33V376.67"/>
<path d="M299.33 343.5H307.67M303.5 339.33V347.67"/>
<path d="M293.33 365.5H301.67M297.5 361.33V369.67"/>
<path d="M294.33 335.5H302.67M298.5 331.33V339.67"/>
<path d="M296.33 329.5H304.67M300.5 325.33V333.67"/>
<path d="M282.33 340.5H290.67M286.5 336.33V344.67"/>
<path d="M299.33 344.5H307.67M303.5 340.33V348.67"/>
<path d="M288.33 334.5H296.67M292.5 330.33V338.67"/>
<path d="M278.33 370.5H286.67M282.5 366.33V374.67"/>
<path d="M268.33 326.5H276.67M272.5 322.33V330.67"/>
<path d="M296.33 349.5H304.67M300.5 345.33V353.67"/>
<path d="M278.33 376.5H286.67M282.5 372.33V380.67"/>
<path d="M287.33 322.5H295.67M291.5 318.33V326.67"/>
<path d="M292.33 331.5H300.67M296.5 327.33V335.67"/>
<path d="M276.33 380.5H284.67M280.5 376.33V384.67"/>
<path d="M280.33 343.5H288.67M284.5 339.33V347.67"/>
<path d="M286.33 373.5H294.67M290.5 369.33V377.67"/>
<path d="M293.33 368.5H301.67M297.5 364.33V372.67"/>
<path d="M301.33 378.5H309.67M305.5 374.33V382.67"/>
<path d="M297.33 358.5H305.67M301.5 354.33V362.67"/>
<path d="M286.33 333.5H294.67M290.5 329.33V337.67"/>
<path d="M292.33 332.5H300.67M296.5 328.33V336.67"/>
<path d="M279.33 335.5H287.67M283.5 331.33V339.67"/>
<path d="M282.33 332.5H290.67M286.5 328.33V336.67"/>
<path d="M282.33 320.5H290.67M286.5 316.33V324.67"/>
<path d="M269.33 349.5H277.67M273.5 345.33V353.67"/>
<path d="M270.33 365.5H278.67M274.5 361.33V369.67"/>
<path d="M276.33 342.5H284.67M280.5 338.33V346.67"/>
<path d="M268.33 352.5H276.67M272.5 348.33V356.67"/>
<path d="M277.33 360.5H285.67M281.5 356.33V364.67"/>
<path d="M267.33 345.5H275.67M271.5 341.33V349.67"/>
<path d="M279.33 353.5H287.67M283.5 349.33V357.67"/>
<path d="M271.33 349.5H279.67M275.5 345.33V353.67"/>
<path d="M285.33 349.5H293.67M289.5 345.33V353.67"/>
<path d="M277.33 351.5H285.67M281.5 347.33V355.67"/>
<path d="M274.33 367.5H282.67M278.5 363.33V371.67"/>
<path d="M285.33 351.5H293.67M289.5 347.33V355.67"/>
<path d="M269.33 363.5H277.67M273.5 359.33V367.67"/>
<path d="M270.33 340.5H278.67M274.5 336.33V344.67"/>
<path d="M284.33 353.5H292.67M288.5 349.33V357.67"/>
<path d="M282.33 352.5H290.67M286.5 348.33V356.67"/>
<path d="M283.33 354.5H291.67M287.5 350.33V358.67"/>
<path d="M269.33 340.5H277.67M273.5 336.33V344.67"/>
<path d="M277.33 360.5H285.67M281.5 356.33V364.67"/>
<path d="M284.33 342.5H292.67M288.5 338.33V346.67"/>
<path d="M278.33 351.5H286.67M282.5 347.33V355.67"/>
<path d="M276.33 344.5H284.67M280.5 340.33V348.67"/>
<path d="M271.33 356.5H279.67M275.5 352.33V360.67"/>
<path d="M284.33 343.5H292.67M288.5 339.33V347.67"/>
<path d="M275.33 365.5H283.67M279.5 361.33V369.67"/>
<path d="M285.33 346.5H293.67M289.5 342.33V350.67"/>
<path d="M268.33 370.5H276.67M272.5 366.33V374.67"/>
<path d="M285.33 355.5H293.67M289.5 351.33V359.67"/>
<path d="M267.33 369.5H275.67M271.5 365.33V373.67"/>
<path d="M273.33 368.5H281.67M277.5 364.33V372.67"/>
<path d="M278.33 366.5H286.67M282.5 362.33V370.67"/>
<path d="M269.33 365.5H277.67M273.5 361.33V369.67"/>
<path d="M270.33 352.5H278.67M274.5 348.33V356.67"/>
<path d="M282.33 366.5H290.67M286.5 362.33V370.67"/>
<path d="M269.33 346.5H277.67M273.5 342.33V350.67"/>
<path d="M279.33 325.5H287.67M283.5 321.33V329.67"/>
<path d="M278.33 317.5H286.67M282.5 313.33V321.67"/>
<path d="M274.33 329.5H282.67M278.5 325.33V333.67"/>
<path d="M293.33 315.5H301.67M297.5 311.33V319.67"/>
<path d="M283.33 330.5H291.67M287.5 326.33V334.67"/>
<path d="M269.33 331.5H277.67M273.5 327.33V335.67"/>
<path d="M271.33 326.5H279.67M275.5 322.33V330.67"/>
<path d="M283.33 327.5H291.67M287.5 323.33V331.67"/>
<path d="M276.33 323.5H284.67M280.5 319.33V327.67"/>
<path d="M284.33 323.5H292.67M288.5 319.33V327.67"/>
<path d="M286.33 323.5H294.67M290.5 319.33V327.67"/>
<path d="M280.33 315.5H288.67M284.5 311.33V319.67"/>
</g>
<g stroke="#0000ff" stroke-width="1.1" stroke-opacity="0.9" fill="none">
<path d="M202.34 278.33L210.66 286.67M202.34 286.67L210.66 278.33"/>
<path d="M209.34 356.33L217.66 364.67M209.34 364.67L217.66 356.33"/>
<path d="M206.34 361.33L214.66 369.67M206.34 369.67L214.66 361.33"/>
</g>
<g fill="#bf00bf" stroke="#000" stroke-width="0.9">
<circle cx="178.80" cy="390.20" r="4.165"/>
<circle cx="181.30" cy="390.20" r="4.165"/>
<circle cx="182.30" cy="392.20" r="4.165"/>
<circle cx="186.50" cy="389.20" r="4.165"/>
<circle cx="191.00" cy="392.20" r="4.165"/>
<circle cx="191.50" cy="390.20" r="4.165"/>
<circle cx="194.70" cy="388.30" r="4.165"/>
<circle cx="197.30" cy="390.20" r="4.165"/>
<circle cx="201.00" cy="391.70" r="4.165"/>
<circle cx="203.00" cy="389.20" r="4.165"/>
<circle cx="207.00" cy="390.20" r="4.165"/>
<circle cx="209.40" cy="391.70" r="4.165"/>
<circle cx="210.30" cy="390.20" r="4.165"/>
</g>
<path d="M100.00 389.50H381.82" stroke="#0000ff" stroke-width="1.389" stroke-dasharray="8.333 8.333" fill="none"/>
<path d="M100.00 389.50H381.82" stroke="#ff0000" stroke-width="1.389" stroke-dasharray="8.333 8.333" fill="none"/>
<path d="M100.00 386.50H381.82" stroke="#0000ff" stroke-width="1.389" stroke-dasharray="4.167 6.944 1.389 6.944" fill="none"/>
<path d="M100.00 392.50H381.82" stroke="#0000ff" stroke-width="1.389" stroke-dasharray="4.167 6.944 1.389 6.944" fill="none"/>
</g>
<rect x="100.5" y="60.5" width="282" height="480" fill="none" stroke="#000" stroke-width="1.389"/>
<path d="M100.5 540.5V534.50M138.5 540.5V534.50M175.5 540.5V534.50M213.5 540.5V534.50M250.5 540.5V534.50M288.5 540.5V534.50M325.5 540.5V534.50M363.5 540.5V534.50M117.5 60.5V66.50M154.5 60.5V66.50M192.5 60.5V66.50M229.5 60.5V66.50M267.5 60.5V66.50M305.5 60.5V66.50M342.5 60.5V66.50M380.5 60.5V66.50M100.5 540.5H106.50M382.5 540.5H376.50M100.5 420.5H106.50M382.5 420.5H376.50M100.5 300.5H106.50M382.5 300.5H376.50M100.5 180.5H106.50M382.5 180.5H376.50M100.5 60.5H106.50M382.5 60.5H376.50" stroke="#000" stroke-width="0.694" fill="none"/>
<g clip-path="url(#cr)">
<rect x="438.18" y="276.60" width="225.77" height="57.50" fill="#0000ff" stroke="#000" stroke-width="1.389"/>
<path d="M438.18 307.5H709.6" stroke="#000" stroke-width="1.389" stroke-dasharray="8.333 8.333" fill="none"/>
</g>
<rect x="438.5" y="60.5" width="282" height="480" fill="none" stroke="#000" stroke-width="1.389"/>
<path d="M439.4 60.5V448.3" stroke="#000" stroke-width="0.6" stroke-opacity="0.45"/>
<path d="M438.5 540.5V534.50M438.5 60.5V66.50M469.5 540.5V534.50M469.5 60.5V66.50M501.5 540.5V534.50M501.5 60.5V66.50M532.5 540.5V534.50M532.5 60.5V66.50M563.5 540.5V534.50M563.5 60.5V66.50M595.5 540.5V534.50M595.5 60.5V66.50M626.5 540.5V534.50M626.5 60.5V66.50M657.5 540.5V534.50M657.5 60.5V66.50M689.5 540.5V534.50M689.5 60.5V66.50M720.5 540.5V534.50M720.5 60.5V66.50M438.5 540.5H444.50M720.5 540.5H714.50M438.5 487.5H444.50M720.5 487.5H714.50M438.5 433.5H444.50M720.5 433.5H714.50M438.5 380.5H444.50M720.5 380.5H714.50M438.5 327.5H444.50M720.5 327.5H714.50M438.5 273.5H444.50M720.5 273.5H714.50M438.5 220.5H444.50M720.5 220.5H714.50M438.5 167.5H444.50M720.5 167.5H714.50M438.5 113.5H444.50M720.5 113.5H714.50M438.5 60.5H444.50M720.5 60.5H714.50" stroke="#000" stroke-width="0.694" fill="none"/>
<g font-family="Liberation Sans, sans-serif" fill="#000">
<rect x="84.20" y="553.68" width="10.43" height="1.38"/>
<text x="96.38" y="559.60" font-size="17.83" textLength="21.19" lengthAdjust="spacing">20</text>
<rect x="121.77" y="553.68" width="10.43" height="1.38"/>
<text x="133.96" y="559.60" font-size="17.83" textLength="21.19" lengthAdjust="spacing">18</text>
<rect x="159.35" y="553.68" width="10.43" height="1.38"/>
<text x="171.53" y="559.60" font-size="17.83" textLength="21.19" lengthAdjust="spacing">16</text>
<rect x="196.92" y="553.68" width="10.43" height="1.38"/>
<text x="209.11" y="559.60" font-size="17.83" textLength="21.19" lengthAdjust="spacing">14</text>
<rect x="234.50" y="553.68" width="10.43" height="1.38"/>
<text x="246.69" y="559.60" font-size="17.83" textLength="21.19" lengthAdjust="spacing">12</text>
<rect x="272.08" y="553.68" width="10.43" height="1.38"/>
<text x="284.26" y="559.60" font-size="17.83" textLength="21.19" lengthAdjust="spacing">10</text>
<rect x="314.95" y="553.68" width="10.43" height="1.38"/>
<text x="327.13" y="559.60" font-size="17.83" textLength="10.59" lengthAdjust="spacing">8</text>
<rect x="352.52" y="553.68" width="10.43" height="1.38"/>
<text x="364.71" y="559.60" font-size="17.83" textLength="10.59" lengthAdjust="spacing">6</text>
<text x="242.80" y="584.20" font-size="17.83" text-anchor="middle" textLength="292.94" lengthAdjust="spacing">magnitude (bottom:isnt / top:calib)</text>
<text x="94.44" y="544.60" font-size="17.83" text-anchor="end" textLength="10.59" lengthAdjust="spacing">0</text>
<text x="94.44" y="424.60" font-size="17.83" text-anchor="end" textLength="10.59" lengthAdjust="spacing">5</text>
<text x="94.44" y="304.60" font-size="17.83" text-anchor="end" textLength="21.19" lengthAdjust="spacing">10</text>
<text x="94.44" y="184.60" font-size="17.83" text-anchor="end" textLength="21.19" lengthAdjust="spacing">15</text>
<text x="94.44" y="64.60" font-size="17.83" text-anchor="end" textLength="21.19" lengthAdjust="spacing">20</text>
<text x="62.83" y="300.00" font-size="17.83" text-anchor="middle" textLength="96.31" lengthAdjust="spacing" transform="rotate(-90 62.83 300.00)">FWHM (pix)</text>
<text x="116.72" y="50.00" font-size="17.83" text-anchor="middle" textLength="21.19" lengthAdjust="spacing">14</text>
<text x="154.30" y="50.00" font-size="17.83" text-anchor="middle" textLength="21.19" lengthAdjust="spacing">16</text>
<text x="191.87" y="50.00" font-size="17.83" text-anchor="middle" textLength="21.19" lengthAdjust="spacing">18</text>
<text x="229.45" y="50.00" font-size="17.83" text-anchor="middle" textLength="21.19" lengthAdjust="spacing">20</text>
<text x="267.02" y="50.00" font-size="17.83" text-anchor="middle" textLength="21.19" lengthAdjust="spacing">22</text>
<text x="304.60" y="50.00" font-size="17.83" text-anchor="middle" textLength="21.19" lengthAdjust="spacing">24</text>
<text x="342.18" y="50.00" font-size="17.83" text-anchor="middle" textLength="21.19" lengthAdjust="spacing">26</text>
<text x="379.75" y="50.00" font-size="17.83" text-anchor="middle" textLength="21.19" lengthAdjust="spacing">28</text>
<text x="227.00" y="28.20" font-size="21.40" text-anchor="middle" textLength="217.19" lengthAdjust="spacing">FWHM vs magnitudes</text>
<text x="438.18" y="559.60" font-size="17.83" text-anchor="middle" textLength="10.59" lengthAdjust="spacing">0</text>
<text x="469.50" y="559.60" font-size="17.83" text-anchor="middle" textLength="21.19" lengthAdjust="spacing">10</text>
<text x="500.81" y="559.60" font-size="17.83" text-anchor="middle" textLength="21.19" lengthAdjust="spacing">20</text>
<text x="532.12" y="559.60" font-size="17.83" text-anchor="middle" textLength="21.19" lengthAdjust="spacing">30</text>
<text x="563.43" y="559.60" font-size="17.83" text-anchor="middle" textLength="21.19" lengthAdjust="spacing">40</text>
<text x="594.75" y="559.60" font-size="17.83" text-anchor="middle" textLength="21.19" lengthAdjust="spacing">50</text>
<text x="626.06" y="559.60" font-size="17.83" text-anchor="middle" textLength="21.19" lengthAdjust="spacing">60</text>
<text x="657.37" y="559.60" font-size="17.83" text-anchor="middle" textLength="21.19" lengthAdjust="spacing">70</text>
<text x="688.69" y="559.60" font-size="17.83" text-anchor="middle" textLength="21.19" lengthAdjust="spacing">80</text>
<text x="720.00" y="559.60" font-size="17.83" text-anchor="middle" textLength="21.19" lengthAdjust="spacing">90</text>
<text x="580.10" y="584.20" font-size="17.83" text-anchor="middle" textLength="155.64" lengthAdjust="spacing">number of sources</text>
<text x="432.63" y="544.60" font-size="17.83" text-anchor="end" textLength="26.48" lengthAdjust="spacing">5.4</text>
<text x="432.63" y="491.27" font-size="17.83" text-anchor="end" textLength="26.48" lengthAdjust="spacing">5.6</text>
<text x="432.63" y="437.93" font-size="17.83" text-anchor="end" textLength="26.48" lengthAdjust="spacing">5.8</text>
<text x="432.63" y="384.60" font-size="17.83" text-anchor="end" textLength="26.48" lengthAdjust="spacing">6.0</text>
<text x="432.63" y="331.27" font-size="17.83" text-anchor="end" textLength="26.48" lengthAdjust="spacing">6.2</text>
<text x="432.63" y="277.93" font-size="17.83" text-anchor="end" textLength="26.48" lengthAdjust="spacing">6.4</text>
<text x="432.63" y="224.60" font-size="17.83" text-anchor="end" textLength="26.48" lengthAdjust="spacing">6.6</text>
<text x="432.63" y="171.27" font-size="17.83" text-anchor="end" textLength="26.48" lengthAdjust="spacing">6.8</text>
<text x="432.63" y="117.93" font-size="17.83" text-anchor="end" textLength="26.48" lengthAdjust="spacing">7.0</text>
<text x="432.63" y="64.60" font-size="17.83" text-anchor="end" textLength="26.48" lengthAdjust="spacing">7.2</text>
<text x="580.50" y="53.06" font-size="21.40" text-anchor="middle" textLength="196.97" lengthAdjust="spacing">histogram of FWHM</text>
</g>
<rect x="27.5" y="70.5" width="345" height="180" fill="#fff" stroke="#000" stroke-width="1.389"/>
<path d="M37.34 86.5H45.66M41.5 82.33V90.67" stroke="#00bfbf" stroke-width="1" stroke-opacity="0.7"/>
<path d="M65.33 86.5H73.67M69.5 82.33V90.67" stroke="#00bfbf" stroke-width="1" stroke-opacity="0.7"/>
<text x="91.90" y="93.20" font-size="21.40" text-anchor="start" textLength="102.47" lengthAdjust="spacing">all sample</text>
<path d="M37.34 111.33L45.66 119.67M37.34 119.67L45.66 111.33" stroke="#0000ff" stroke-width="1.1" stroke-opacity="0.9"/>
<path d="M65.33 111.33L73.67 119.67M65.33 119.67L73.67 111.33" stroke="#0000ff" stroke-width="1.1" stroke-opacity="0.9"/>
<text x="91.90" y="122.12" font-size="21.40" text-anchor="start" textLength="240.95" lengthAdjust="spacing">sample for rough FWHM</text>
<circle cx="41.50" cy="144.50" r="4.165" fill="#bf00bf" stroke="#000" stroke-width="0.694"/>
<circle cx="69.50" cy="144.50" r="4.165" fill="#bf00bf" stroke="#000" stroke-width="0.694"/>
<text x="91.90" y="151.04" font-size="21.40" text-anchor="start" textLength="268.12" lengthAdjust="spacing">best-effort PSF-like sample</text>
<path d="M41.50 173.5H69.50" stroke="#0000ff" stroke-width="1.389" stroke-dasharray="8.333 8.333"/>
<text x="91.90" y="179.96" font-size="21.40" text-anchor="start" textLength="216.91" lengthAdjust="spacing">resultant FWHM: 6.27</text>
<path d="M41.50 202.5H69.50" stroke="#ff0000" stroke-width="1.389" stroke-dasharray="8.333 8.333"/>
<text x="91.90" y="208.88" font-size="21.40" text-anchor="start" textLength="273.33" lengthAdjust="spacing">median FHWM of sequence</text>
<path d="M41.50 231.5H69.50" stroke="#0000ff" stroke-width="1.389" stroke-dasharray="4.167 6.944 1.389 6.944"/>
<text x="91.90" y="237.80" font-size="21.40" text-anchor="start" textLength="124.94" lengthAdjust="spacing">sigma range</text>
<g font-family="Liberation Sans, sans-serif" fill="#000">
<text x="395.71" y="300.00" font-size="17.83" text-anchor="middle" textLength="306.27" lengthAdjust="spacing" transform="rotate(-90 395.71 300.00)">FWHM of best-effort PSF-like sources</text>
</g>
</svg>
</body></html>
